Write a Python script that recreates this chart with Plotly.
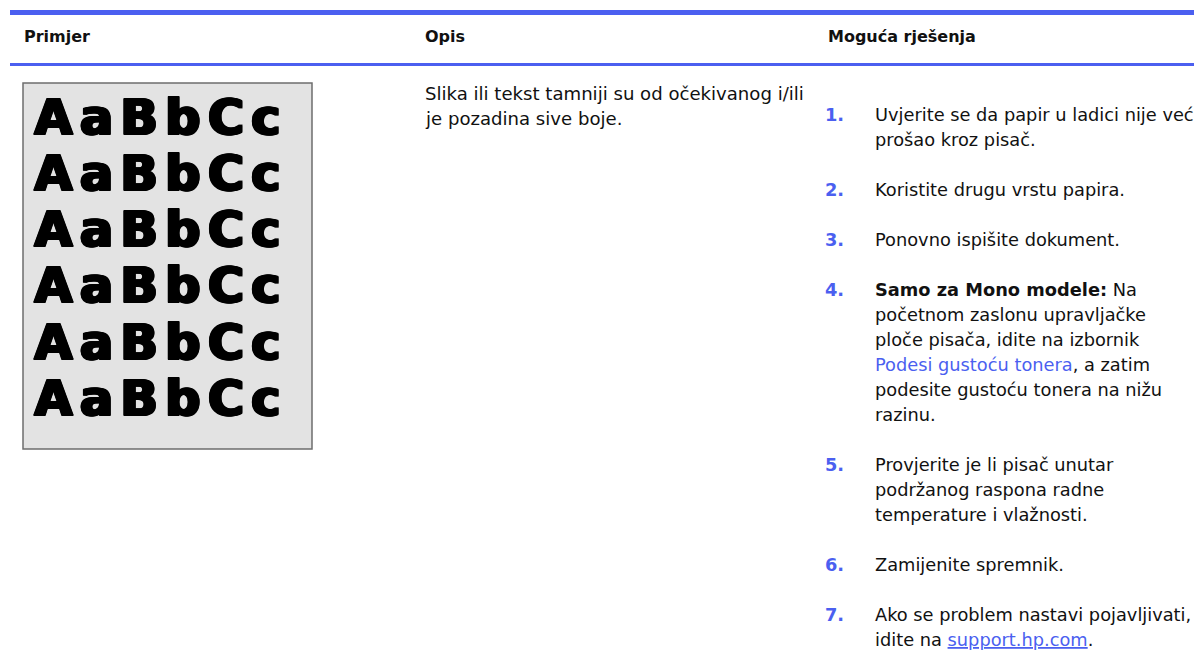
import plotly.graph_objects as go

# ---------------- data ----------------
headers = ["Primjer", "Opis", "Moguća rješenja"]
sample_word = "AaBbCc"
sample_repeats = 6
description_lines = [
    "Slika ili tekst tamniji su od očekivanog i/ili",
    "je pozadina sive boje.",
]
step_numbers = ["1.", "2.", "3.", "4.", "5.", "6.", "7."]
step_lines = [
    ["Uvjerite se da papir u ladici nije već", "prošao kroz pisač."],
    ["Koristite drugu vrstu papira."],
    ["Ponovno ispišite dokument."],
    ["<b>Samo za Mono modele:</b> Na",
     "početnom zaslonu upravljačke",
     "ploče pisača, idite na izbornik",
     "<span style='color:#4B5FF0'>Podesi gustoću tonera</span>, a zatim",
     "podesite gustoću tonera na nižu",
     "razinu."],
    ["Provjerite je li pisač unutar", "podržanog raspona radne", "temperature i vlažnosti."],
    ["Zamijenite spremnik."],
    ["Ako se problem nastavi pojavljivati,",
     "idite na <span style='color:#4B5FF0'><u>support.hp.com</u></span>."],
]

# ---------------- layout constants ----------------
W, H = 1202, 662
PAGE_MARGIN = 8          # browser body margin around the figure
BLUE = "#4B5FF0"
TEXT = "#111111"
FONT = "DejaVu Sans"
BODY_SIZE = 17.8
col_x = [22, 423, 826]
num_x = 823
step_text_x = 873
line_h = 25
para_gap = 25

fig = go.Figure()
fig.add_trace(go.Scatter(x=[PAGE_MARGIN, W], y=[PAGE_MARGIN, H], mode="markers",
                         marker=dict(opacity=0), hoverinfo="skip", showlegend=False))

shapes = []
shapes.append(dict(type="line", x0=10, x1=W, y0=12.5, y1=12.5, line=dict(color=BLUE, width=5)))
shapes.append(dict(type="line", x0=10, x1=W, y0=64.5, y1=64.5, line=dict(color=BLUE, width=3)))
shapes.append(dict(type="rect", x0=23, x1=312, y0=83, y1=449,
                   fillcolor="#E3E3E3", line=dict(color="#6E6E6E", width=1.5), layer="below"))

ann = []
for txt, x in zip(headers, col_x):
    ann.append(dict(x=x, y=36, text="<b>" + txt + "</b>", xanchor="left", yanchor="middle",
                    showarrow=False, font=dict(family=FONT, size=16, color=TEXT)))

heavy = ("1px 0 0 #000, 2px 0 0 #000, 3px 0 0 #000, "
         "0 1px 0 #000, 1px 1px 0 #000, 2px 1px 0 #000, 3px 1px 0 #000")
for i in range(sample_repeats):
    ann.append(dict(x=31, y=117 + i * 56.3,
                    text="<span style='letter-spacing:7.5px'><b>" + sample_word + "</b></span>",
                    xanchor="left", yanchor="middle", showarrow=False,
                    font=dict(family="DejaVu Sans", size=49, color="#000000", shadow=heavy)))

for i, line in enumerate(description_lines):
    ann.append(dict(x=col_x[1], y=93 + i * line_h, text=line, xanchor="left", yanchor="middle",
                    showarrow=False, font=dict(family=FONT, size=18.1, color=TEXT)))

y = 114
for num, lines in zip(step_numbers, step_lines):
    ann.append(dict(x=num_x, y=y, text="<b>" + num + "</b>", xanchor="left", yanchor="middle",
                    showarrow=False, font=dict(family=FONT, size=BODY_SIZE, color=BLUE)))
    for j, line in enumerate(lines):
        ann.append(dict(x=step_text_x, y=y + j * line_h, text=line, xanchor="left",
                        yanchor="middle", showarrow=False,
                        font=dict(family=FONT, size=BODY_SIZE, color=TEXT)))
    y += len(lines) * line_h + para_gap

fig.update_layout(
    width=W - 2 * PAGE_MARGIN, height=H - 2 * PAGE_MARGIN,
    margin=dict(l=0, r=0, t=0, b=0),
    paper_bgcolor="white", plot_bgcolor="white",
    xaxis=dict(range=[PAGE_MARGIN, W - PAGE_MARGIN], visible=False, fixedrange=True),
    yaxis=dict(range=[H - PAGE_MARGIN, PAGE_MARGIN], visible=False, fixedrange=True),
    shapes=shapes, annotations=ann, showlegend=False,
)
fig.write_html("out.html")
